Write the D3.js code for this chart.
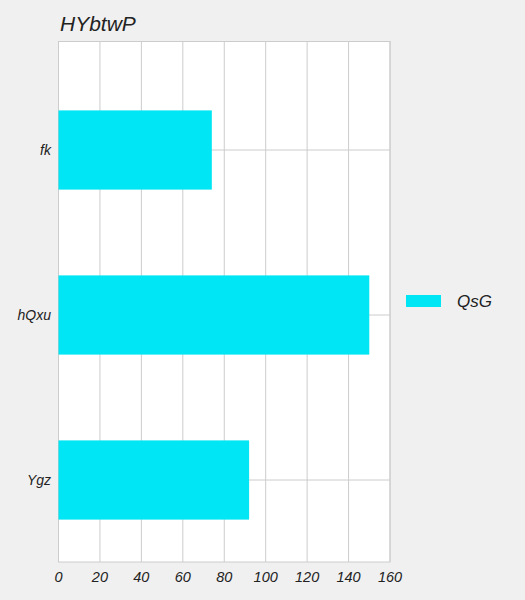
<!DOCTYPE html>
<html><head><meta charset="utf-8">
<script src="https://cdn.jsdelivr.net/npm/d3@7"></script>
<style>body{margin:0;background:#f0f0f0;}svg{display:block;font-family:"Liberation Sans",Arial,sans-serif;font-style:italic;}</style>
</head><body>
<script>
const title = "HYbtwP";
const categories = ["fk", "hQxu", "Ygz"];
const values = [74, 150, 92];
const seriesName = "QsG";
const xTicks = [0, 20, 40, 60, 80, 100, 120, 140, 160];

(function () {
const W = 525, H = 600;
const pLeft = 58.5, pRight = 390, pTop = 41, pBottom = 562;
const svg = d3.select("body").append("svg").attr("width", W).attr("height", H);
svg.append("rect").attr("width", W).attr("height", H).attr("fill", "#f0f0f0");
svg.append("rect").attr("x", pLeft).attr("y", pTop).attr("width", pRight - pLeft).attr("height", pBottom - pTop).attr("fill", "#fff");

const x = d3.scaleLinear().domain([0, 160]).range([pLeft, pRight]);
const y = d3.scaleBand().domain(categories).range([67.5, 562.5]).paddingInner(0.52).paddingOuter(0.26);

const g = svg.append("g");
g.selectAll(".vg").data(xTicks).join("line")
  .attr("x1", d => x(d)).attr("x2", d => x(d)).attr("y1", pTop).attr("y2", pBottom)
  .attr("stroke", "#cccccc").attr("stroke-width", 1);
g.selectAll(".hg").data(categories).join("line")
  .attr("x1", pLeft).attr("x2", pRight).attr("y1", d => y(d) + y.bandwidth() / 2).attr("y2", d => y(d) + y.bandwidth() / 2)
  .attr("stroke", "#cccccc").attr("stroke-width", 1);
svg.append("rect").attr("x", pLeft).attr("y", pTop + 0.5).attr("width", pRight - pLeft).attr("height", pBottom - pTop - 0.5)
  .attr("fill", "none").attr("stroke", "#cccccc");

svg.selectAll(".bar").data(categories).join("rect")
  .attr("x", pLeft).attr("y", (d) => y(d)).attr("width", (d, i) => x(values[i]) - pLeft).attr("height", y.bandwidth())
  .attr("fill", "#00e6f4");

svg.selectAll(".xt").data(xTicks).join("text")
  .attr("x", d => x(d)).attr("y", 582).attr("text-anchor", "middle")
  .attr("font-size", 14.5).attr("fill", "#222").text(d => d);
svg.selectAll(".yt").data(categories).join("text")
  .attr("x", 51).attr("y", d => y(d) + y.bandwidth() / 2 + 5).attr("text-anchor", "end")
  .attr("font-size", 14).attr("fill", "#222").text(d => d);

svg.append("text").attr("x", 60).attr("y", 31).attr("font-size", 21).attr("fill", "#222").text(title);

svg.append("rect").attr("x", 406).attr("y", 295).attr("width", 35).attr("height", 12).attr("fill", "#00e6f4");
svg.append("text").attr("x", 457).attr("y", 307).attr("font-size", 17).attr("fill", "#222").text(seriesName);
})();
</script>
</body></html>
